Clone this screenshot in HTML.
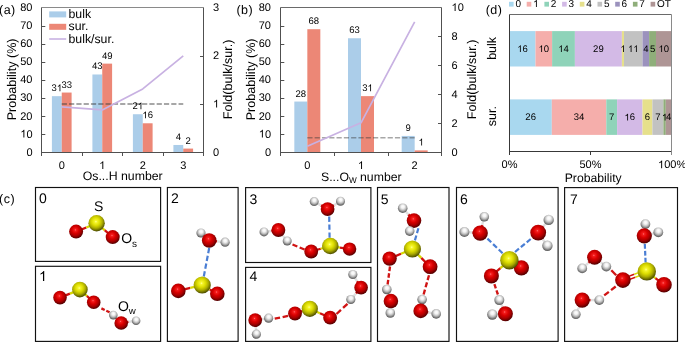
<!DOCTYPE html>
<html><head><meta charset="utf-8"><style>
html,body{margin:0;padding:0;background:#fff;}
body{width:685px;height:342px;overflow:hidden;}
svg{display:block;will-change:transform;text-rendering:geometricPrecision;}
</style></head><body>
<svg width="685" height="342" viewBox="0 0 685 342" font-family='"Liberation Sans", sans-serif' fill="#000">
<rect width="685" height="342" fill="#fff"/>
<g id="pa">
<rect x="51.90" y="96.17" width="9.85" height="56.03" fill="#abcde9" />
<rect x="61.75" y="92.55" width="9.85" height="59.65" fill="#ec8776" />
<rect x="92.40" y="74.48" width="9.85" height="77.72" fill="#abcde9" />
<rect x="102.25" y="63.63" width="9.85" height="88.57" fill="#ec8776" />
<rect x="132.90" y="114.24" width="9.85" height="37.96" fill="#abcde9" />
<rect x="142.75" y="123.28" width="9.85" height="28.92" fill="#ec8776" />
<rect x="173.40" y="144.97" width="9.85" height="7.23" fill="#abcde9" />
<rect x="183.25" y="148.58" width="9.85" height="3.61" fill="#ec8776" />
<line x1="61.75" y1="104.0" x2="183.25" y2="104.0" stroke="rgba(60,60,60,0.6)" stroke-width="1.3" stroke-dasharray="5.2,2.1"/>
<polyline points="61.75,106.92 102.25,109.90 142.75,88.94 183.25,55.80" fill="none" stroke="#c8b1e2" stroke-width="1.7" stroke-linejoin="round"/>
<line x1="41.5" y1="7.5" x2="203.5" y2="7.5" stroke="#8a8a8a" stroke-width="1" />
<line x1="41.5" y1="7.5" x2="41.5" y2="156.0" stroke="#505050" stroke-width="1" />
<line x1="203.5" y1="7.5" x2="203.5" y2="156.0" stroke="#505050" stroke-width="1" />
<line x1="41.5" y1="152.5" x2="203.5" y2="152.5" stroke="#505050" stroke-width="1" />
<text x="32.5" y="155.70" font-size="11" text-anchor="end" >0</text>
<line x1="41.5" y1="134.5" x2="45.3" y2="134.5" stroke="#505050" stroke-width="1" />
<text x="32.5" y="137.62" font-size="11" text-anchor="end" ><tspan fill="transparent">1</tspan>0</text>
<path d="M763 0H583V1147Q518 1085 415 1024Q312 964 223 931V1105Q374 1176 487 1277Q600 1378 647 1466H763Z" transform="translate(20.26,137.62) scale(0.00537,-0.00537)"/>
<line x1="41.5" y1="116.5" x2="45.3" y2="116.5" stroke="#505050" stroke-width="1" />
<text x="32.5" y="119.55" font-size="11" text-anchor="end" >20</text>
<line x1="41.5" y1="98.5" x2="45.3" y2="98.5" stroke="#505050" stroke-width="1" />
<text x="32.5" y="101.47" font-size="11" text-anchor="end" >30</text>
<line x1="41.5" y1="80.5" x2="45.3" y2="80.5" stroke="#505050" stroke-width="1" />
<text x="32.5" y="83.40" font-size="11" text-anchor="end" >40</text>
<line x1="41.5" y1="62.5" x2="45.3" y2="62.5" stroke="#505050" stroke-width="1" />
<text x="32.5" y="65.32" font-size="11" text-anchor="end" >50</text>
<line x1="41.5" y1="44.5" x2="45.3" y2="44.5" stroke="#505050" stroke-width="1" />
<text x="32.5" y="47.25" font-size="11" text-anchor="end" >60</text>
<line x1="41.5" y1="26.5" x2="45.3" y2="26.5" stroke="#505050" stroke-width="1" />
<text x="32.5" y="29.17" font-size="11" text-anchor="end" >70</text>
<text x="32.5" y="11.10" font-size="11" text-anchor="end" >80</text>
<text x="213" y="155.70" font-size="11" text-anchor="start" >0</text>
<line x1="200.0" y1="104.5" x2="203.5" y2="104.5" stroke="#505050" stroke-width="1" />
<text x="213" y="107.50" font-size="11" text-anchor="start" ><tspan fill="transparent">1</tspan></text>
<path d="M763 0H583V1147Q518 1085 415 1024Q312 964 223 931V1105Q374 1176 487 1277Q600 1378 647 1466H763Z" transform="translate(213.00,107.50) scale(0.00537,-0.00537)"/>
<line x1="200.0" y1="56.5" x2="203.5" y2="56.5" stroke="#505050" stroke-width="1" />
<text x="213" y="59.30" font-size="11" text-anchor="start" >2</text>
<text x="213" y="11.10" font-size="11" text-anchor="start" >3</text>
<line x1="82.5" y1="152.5" x2="82.5" y2="156.0" stroke="#505050" stroke-width="1" />
<line x1="122.5" y1="152.5" x2="122.5" y2="156.0" stroke="#505050" stroke-width="1" />
<line x1="163.5" y1="152.5" x2="163.5" y2="156.0" stroke="#505050" stroke-width="1" />
<text x="61.75" y="169.0" font-size="11" text-anchor="middle" >0</text>
<text x="102.25" y="169.0" font-size="11" text-anchor="middle" ><tspan fill="transparent">1</tspan></text>
<path d="M763 0H583V1147Q518 1085 415 1024Q312 964 223 931V1105Q374 1176 487 1277Q600 1378 647 1466H763Z" transform="translate(99.19,169.00) scale(0.00537,-0.00537)"/>
<text x="142.75" y="169.0" font-size="11" text-anchor="middle" >2</text>
<text x="183.25" y="169.0" font-size="11" text-anchor="middle" >3</text>
<text x="56.83" y="91.17" font-size="9.5" text-anchor="middle" >3<tspan fill="transparent">1</tspan></text>
<path d="M763 0H583V1147Q518 1085 415 1024Q312 964 223 931V1105Q374 1176 487 1277Q600 1378 647 1466H763Z" transform="translate(56.83,91.17) scale(0.00464,-0.00464)"/>
<text x="66.67" y="87.55" font-size="9.5" text-anchor="middle" >33</text>
<text x="97.33" y="69.48" font-size="9.5" text-anchor="middle" >43</text>
<text x="107.17" y="58.63" font-size="9.5" text-anchor="middle" >49</text>
<text x="137.82" y="109.24" font-size="9.5" text-anchor="middle" >2<tspan fill="transparent">1</tspan></text>
<path d="M763 0H583V1147Q518 1085 415 1024Q312 964 223 931V1105Q374 1176 487 1277Q600 1378 647 1466H763Z" transform="translate(137.82,109.24) scale(0.00464,-0.00464)"/>
<text x="147.68" y="118.28" font-size="9.5" text-anchor="middle" ><tspan fill="transparent">1</tspan>6</text>
<path d="M763 0H583V1147Q518 1085 415 1024Q312 964 223 931V1105Q374 1176 487 1277Q600 1378 647 1466H763Z" transform="translate(142.40,118.28) scale(0.00464,-0.00464)"/>
<text x="178.32" y="139.97" font-size="9.5" text-anchor="middle" >4</text>
<text x="188.18" y="143.58" font-size="9.5" text-anchor="middle" >2</text>
<text transform="translate(16.4,79.4) rotate(-90)" font-size="12.6" text-anchor="middle">Probability (%)</text>
<text transform="translate(232,79.4) rotate(-90)" font-size="12.6" text-anchor="middle">Fold(bulk/sur.)</text>
<text x="122.7" y="180.3" font-size="12.3" text-anchor="middle">Os...H number</text>
<text x="-1" y="14.4" font-size="12.5" text-anchor="start" letter-spacing="0.5">(a)</text>
<rect x="49.20" y="11.40" width="17.00" height="6.00" fill="#abcde9" />
<rect x="49.20" y="23.80" width="17.00" height="6.00" fill="#ec8776" />
<line x1="49.2" y1="39" x2="66.2" y2="39" stroke="#c8b1e2" stroke-width="1.6" />
<text x="68.5" y="18.2" font-size="12.3" text-anchor="start" >bulk</text>
<text x="68.5" y="30.4" font-size="12.3" text-anchor="start" >sur.</text>
<text x="68.5" y="42.6" font-size="12.3" text-anchor="start" >bulk/sur.</text>
</g>
<g id="pb">
<rect x="294.33" y="101.55" width="13.00" height="50.64" fill="#abcde9" />
<rect x="307.33" y="29.20" width="13.00" height="122.99" fill="#ec8776" />
<rect x="348.00" y="38.25" width="13.00" height="113.95" fill="#abcde9" />
<rect x="361.00" y="96.13" width="13.00" height="56.07" fill="#ec8776" />
<rect x="401.67" y="135.92" width="13.00" height="16.28" fill="#abcde9" />
<rect x="414.67" y="150.39" width="13.00" height="1.81" fill="#ec8776" />
<line x1="307.3333333333333" y1="137.73" x2="414.66666666666663" y2="137.73" stroke="rgba(60,60,60,0.45)" stroke-width="1.3" stroke-dasharray="5.2,2.1"/>
<polyline points="307.33,146.24 361.00,122.79 414.67,21.97" fill="none" stroke="#c8b1e2" stroke-width="1.7" stroke-linejoin="round"/>
<line x1="280.5" y1="7.5" x2="441.5" y2="7.5" stroke="#6a6a6a" stroke-width="1" />
<line x1="280.5" y1="7.5" x2="280.5" y2="156.0" stroke="#505050" stroke-width="1" />
<line x1="441.5" y1="7.5" x2="441.5" y2="156.0" stroke="#505050" stroke-width="1" />
<line x1="280.5" y1="152.5" x2="441.5" y2="152.5" stroke="#505050" stroke-width="1" />
<text x="271" y="155.70" font-size="11" text-anchor="end" >0</text>
<line x1="280.5" y1="134.5" x2="284.3" y2="134.5" stroke="#505050" stroke-width="1" />
<text x="271" y="137.61" font-size="11" text-anchor="end" ><tspan fill="transparent">1</tspan>0</text>
<path d="M763 0H583V1147Q518 1085 415 1024Q312 964 223 931V1105Q374 1176 487 1277Q600 1378 647 1466H763Z" transform="translate(258.76,137.61) scale(0.00537,-0.00537)"/>
<line x1="280.5" y1="116.5" x2="284.3" y2="116.5" stroke="#505050" stroke-width="1" />
<text x="271" y="119.52" font-size="11" text-anchor="end" >20</text>
<line x1="280.5" y1="98.5" x2="284.3" y2="98.5" stroke="#505050" stroke-width="1" />
<text x="271" y="101.44" font-size="11" text-anchor="end" >30</text>
<line x1="280.5" y1="80.5" x2="284.3" y2="80.5" stroke="#505050" stroke-width="1" />
<text x="271" y="83.35" font-size="11" text-anchor="end" >40</text>
<line x1="280.5" y1="62.5" x2="284.3" y2="62.5" stroke="#505050" stroke-width="1" />
<text x="271" y="65.26" font-size="11" text-anchor="end" >50</text>
<line x1="280.5" y1="44.5" x2="284.3" y2="44.5" stroke="#505050" stroke-width="1" />
<text x="271" y="47.17" font-size="11" text-anchor="end" >60</text>
<line x1="280.5" y1="26.5" x2="284.3" y2="26.5" stroke="#505050" stroke-width="1" />
<text x="271" y="29.09" font-size="11" text-anchor="end" >70</text>
<text x="271" y="11.00" font-size="11" text-anchor="end" >80</text>
<text x="451.5" y="155.70" font-size="11" text-anchor="start" >0</text>
<line x1="438.0" y1="123.5" x2="441.5" y2="123.5" stroke="#505050" stroke-width="1" />
<text x="451.5" y="126.76" font-size="11" text-anchor="start" >2</text>
<line x1="438.0" y1="94.5" x2="441.5" y2="94.5" stroke="#505050" stroke-width="1" />
<text x="451.5" y="97.82" font-size="11" text-anchor="start" >4</text>
<line x1="438.0" y1="65.5" x2="441.5" y2="65.5" stroke="#505050" stroke-width="1" />
<text x="451.5" y="68.88" font-size="11" text-anchor="start" >6</text>
<line x1="438.0" y1="36.5" x2="441.5" y2="36.5" stroke="#505050" stroke-width="1" />
<text x="451.5" y="39.94" font-size="11" text-anchor="start" >8</text>
<text x="451.5" y="11.00" font-size="11" text-anchor="start" ><tspan fill="transparent">1</tspan>0</text>
<path d="M763 0H583V1147Q518 1085 415 1024Q312 964 223 931V1105Q374 1176 487 1277Q600 1378 647 1466H763Z" transform="translate(451.50,11.00) scale(0.00537,-0.00537)"/>
<line x1="334.5" y1="152.5" x2="334.5" y2="156.0" stroke="#505050" stroke-width="1" />
<line x1="388.5" y1="152.5" x2="388.5" y2="156.0" stroke="#505050" stroke-width="1" />
<text x="307.33" y="169.0" font-size="11" text-anchor="middle" >0</text>
<text x="361.00" y="169.0" font-size="11" text-anchor="middle" ><tspan fill="transparent">1</tspan></text>
<path d="M763 0H583V1147Q518 1085 415 1024Q312 964 223 931V1105Q374 1176 487 1277Q600 1378 647 1466H763Z" transform="translate(357.94,169.00) scale(0.00537,-0.00537)"/>
<text x="414.67" y="169.0" font-size="11" text-anchor="middle" >2</text>
<text x="300.83" y="96.55" font-size="9.5" text-anchor="middle" >28</text>
<text x="313.83" y="24.20" font-size="9.5" text-anchor="middle" >68</text>
<text x="354.50" y="33.25" font-size="9.5" text-anchor="middle" >63</text>
<text x="367.50" y="91.13" font-size="9.5" text-anchor="middle" >3<tspan fill="transparent">1</tspan></text>
<path d="M763 0H583V1147Q518 1085 415 1024Q312 964 223 931V1105Q374 1176 487 1277Q600 1378 647 1466H763Z" transform="translate(367.50,91.13) scale(0.00464,-0.00464)"/>
<text x="408.17" y="130.92" font-size="9.5" text-anchor="middle" >9</text>
<text x="421.17" y="145.39" font-size="9.5" text-anchor="middle" ><tspan fill="transparent">1</tspan></text>
<path d="M763 0H583V1147Q518 1085 415 1024Q312 964 223 931V1105Q374 1176 487 1277Q600 1378 647 1466H763Z" transform="translate(418.53,145.39) scale(0.00464,-0.00464)"/>
<text transform="translate(255.2,79.4) rotate(-90)" font-size="12.6" text-anchor="middle">Probability (%)</text>
<text transform="translate(476.3,79.4) rotate(-90)" font-size="12.6" text-anchor="middle">Fold(bulk/sur.)</text>
<text x="321" y="180.6" font-size="12.25">S...O<tspan font-size="8.2" dy="2.6">W</tspan><tspan dy="-2.6"> number</tspan></text>
<text x="236.4" y="14.4" font-size="12.5" text-anchor="start" letter-spacing="0.5">(b)</text>
</g>
<g id="pd">
<rect x="509.50" y="31.10" width="26.00" height="35.40" fill="#a9d8ef" />
<rect x="535.50" y="31.10" width="16.60" height="35.40" fill="#f5aeab" />
<rect x="552.10" y="31.10" width="22.80" height="35.40" fill="#8fd3b9" />
<rect x="574.90" y="31.10" width="47.00" height="35.40" fill="#d3bae6" />
<rect x="621.90" y="31.10" width="2.10" height="35.40" fill="#e6e08c" />
<rect x="624.00" y="31.10" width="18.50" height="35.40" fill="#c2c2c2" />
<rect x="642.50" y="31.10" width="6.60" height="35.40" fill="#9b92bd" />
<rect x="649.10" y="31.10" width="6.90" height="35.40" fill="#8fae7a" />
<rect x="656.00" y="31.10" width="15.60" height="35.40" fill="#ae9595" />
<text x="522.50" y="52.10" font-size="9.5" text-anchor="middle" ><tspan fill="transparent">1</tspan>6</text>
<path d="M763 0H583V1147Q518 1085 415 1024Q312 964 223 931V1105Q374 1176 487 1277Q600 1378 647 1466H763Z" transform="translate(517.22,52.10) scale(0.00464,-0.00464)"/>
<text x="543.80" y="52.10" font-size="9.5" text-anchor="middle" ><tspan fill="transparent">1</tspan>0</text>
<path d="M763 0H583V1147Q518 1085 415 1024Q312 964 223 931V1105Q374 1176 487 1277Q600 1378 647 1466H763Z" transform="translate(538.52,52.10) scale(0.00464,-0.00464)"/>
<text x="563.50" y="52.10" font-size="9.5" text-anchor="middle" ><tspan fill="transparent">1</tspan>4</text>
<path d="M763 0H583V1147Q518 1085 415 1024Q312 964 223 931V1105Q374 1176 487 1277Q600 1378 647 1466H763Z" transform="translate(558.22,52.10) scale(0.00464,-0.00464)"/>
<text x="598.40" y="52.10" font-size="9.5" text-anchor="middle" >29</text>
<text x="622.95" y="52.10" font-size="9.5" text-anchor="middle" ><tspan fill="transparent">1</tspan></text>
<path d="M763 0H583V1147Q518 1085 415 1024Q312 964 223 931V1105Q374 1176 487 1277Q600 1378 647 1466H763Z" transform="translate(620.31,52.10) scale(0.00464,-0.00464)"/>
<text x="633.25" y="52.10" font-size="9.5" text-anchor="middle" ><tspan fill="transparent">1</tspan><tspan fill="transparent">1</tspan></text>
<path d="M763 0H583V1147Q518 1085 415 1024Q312 964 223 931V1105Q374 1176 487 1277Q600 1378 647 1466H763Z" transform="translate(627.97,52.10) scale(0.00464,-0.00464)"/>
<path d="M763 0H583V1147Q518 1085 415 1024Q312 964 223 931V1105Q374 1176 487 1277Q600 1378 647 1466H763Z" transform="translate(633.25,52.10) scale(0.00464,-0.00464)"/>
<text x="645.80" y="52.10" font-size="9.5" text-anchor="middle" >4</text>
<text x="652.55" y="52.10" font-size="9.5" text-anchor="middle" >5</text>
<text x="663.80" y="52.10" font-size="9.5" text-anchor="middle" ><tspan fill="transparent">1</tspan>0</text>
<path d="M763 0H583V1147Q518 1085 415 1024Q312 964 223 931V1105Q374 1176 487 1277Q600 1378 647 1466H763Z" transform="translate(658.52,52.10) scale(0.00464,-0.00464)"/>
<rect x="509.50" y="99.40" width="42.30" height="35.50" fill="#a9d8ef" />
<rect x="551.80" y="99.40" width="54.50" height="35.50" fill="#f5aeab" />
<rect x="606.30" y="99.40" width="10.80" height="35.50" fill="#8fd3b9" />
<rect x="617.10" y="99.40" width="25.40" height="35.50" fill="#d3bae6" />
<rect x="642.50" y="99.40" width="9.90" height="35.50" fill="#e6e08c" />
<rect x="652.40" y="99.40" width="11.00" height="35.50" fill="#c2c2c2" />
<rect x="663.40" y="99.40" width="2.40" height="35.50" fill="#8fae7a" />
<rect x="665.80" y="99.40" width="5.80" height="35.50" fill="#ae9595" />
<text x="530.65" y="120.45" font-size="9.5" text-anchor="middle" >26</text>
<text x="579.05" y="120.45" font-size="9.5" text-anchor="middle" >34</text>
<text x="611.70" y="120.45" font-size="9.5" text-anchor="middle" >7</text>
<text x="629.80" y="120.45" font-size="9.5" text-anchor="middle" ><tspan fill="transparent">1</tspan>6</text>
<path d="M763 0H583V1147Q518 1085 415 1024Q312 964 223 931V1105Q374 1176 487 1277Q600 1378 647 1466H763Z" transform="translate(624.52,120.45) scale(0.00464,-0.00464)"/>
<text x="647.45" y="120.45" font-size="9.5" text-anchor="middle" >6</text>
<text x="657.90" y="120.45" font-size="9.5" text-anchor="middle" >7</text>
<text x="664.60" y="120.45" font-size="9.5" text-anchor="middle" ><tspan fill="transparent">1</tspan></text>
<path d="M763 0H583V1147Q518 1085 415 1024Q312 964 223 931V1105Q374 1176 487 1277Q600 1378 647 1466H763Z" transform="translate(661.96,120.45) scale(0.00464,-0.00464)"/>
<text x="668.70" y="120.45" font-size="9.5" text-anchor="middle" >4</text>
<line x1="509.5" y1="14.5" x2="671.5" y2="14.5" stroke="#6a6a6a" stroke-width="1" />
<line x1="671.5" y1="14.5" x2="671.5" y2="151.5" stroke="#8a8a8a" stroke-width="1" />
<line x1="509.5" y1="14.5" x2="509.5" y2="155.0" stroke="#383838" stroke-width="1" />
<line x1="509.5" y1="151.5" x2="671.5" y2="151.5" stroke="#383838" stroke-width="1" />
<text x="509.50" y="168.3" font-size="11" text-anchor="middle" >0%</text>
<line x1="590.5" y1="151.5" x2="590.5" y2="155.0" stroke="#383838" stroke-width="1" />
<text x="590.50" y="168.3" font-size="11" text-anchor="middle" >50%</text>
<line x1="671.5" y1="151.5" x2="671.5" y2="155.0" stroke="#8a8a8a" stroke-width="1" />
<text x="672.10" y="168.3" font-size="11" text-anchor="middle" ><tspan fill="transparent">1</tspan>00%</text>
<path d="M763 0H583V1147Q518 1085 415 1024Q312 964 223 931V1105Q374 1176 487 1277Q600 1378 647 1466H763Z" transform="translate(658.03,168.30) scale(0.00537,-0.00537)"/>
<text x="593.2" y="182.2" font-size="12.2" text-anchor="middle" >Probability</text>
<text transform="translate(496.4,48.4) rotate(-90)" font-size="12.5" text-anchor="middle">bulk</text>
<text transform="translate(496.4,116.2) rotate(-90)" font-size="12.5" text-anchor="middle">sur.</text>
<text x="485.7" y="14.4" font-size="12.5" text-anchor="start" letter-spacing="0.5">(d)</text>
<rect x="509.00" y="1.80" width="4.60" height="4.80" fill="#a9d8ef" />
<text x="515.40" y="7.1" font-size="10" text-anchor="start" >0</text>
<rect x="526.70" y="1.80" width="4.60" height="4.80" fill="#f5aeab" />
<text x="533.10" y="7.1" font-size="10" text-anchor="start" ><tspan fill="transparent">1</tspan></text>
<path d="M763 0H583V1147Q518 1085 415 1024Q312 964 223 931V1105Q374 1176 487 1277Q600 1378 647 1466H763Z" transform="translate(533.10,7.10) scale(0.00488,-0.00488)"/>
<rect x="544.40" y="1.80" width="4.60" height="4.80" fill="#8fd3b9" />
<text x="550.80" y="7.1" font-size="10" text-anchor="start" >2</text>
<rect x="562.10" y="1.80" width="4.60" height="4.80" fill="#d3bae6" />
<text x="568.50" y="7.1" font-size="10" text-anchor="start" >3</text>
<rect x="579.80" y="1.80" width="4.60" height="4.80" fill="#e6e08c" />
<text x="586.20" y="7.1" font-size="10" text-anchor="start" >4</text>
<rect x="597.50" y="1.80" width="4.60" height="4.80" fill="#c2c2c2" />
<text x="603.90" y="7.1" font-size="10" text-anchor="start" >5</text>
<rect x="615.20" y="1.80" width="4.60" height="4.80" fill="#9b92bd" />
<text x="621.60" y="7.1" font-size="10" text-anchor="start" >6</text>
<rect x="632.90" y="1.80" width="4.60" height="4.80" fill="#8fae7a" />
<text x="639.30" y="7.1" font-size="10" text-anchor="start" >7</text>
<rect x="650.60" y="1.80" width="4.60" height="4.80" fill="#ae9595" />
<text x="657.00" y="7.1" font-size="10" text-anchor="start" >OT</text>
</g>
<defs>
<radialGradient id="gO" cx="0.44" cy="0.38" r="0.62" fx="0.45" fy="0.38">
<stop offset="0" stop-color="#ff7272"/><stop offset="0.12" stop-color="#f41c1c"/><stop offset="0.4" stop-color="#d80000"/><stop offset="0.66" stop-color="#ae0000"/><stop offset="0.86" stop-color="#780000"/><stop offset="1" stop-color="#4c0000"/></radialGradient>
<radialGradient id="gS" cx="0.44" cy="0.38" r="0.62" fx="0.46" fy="0.4">
<stop offset="0" stop-color="#ffff98"/><stop offset="0.12" stop-color="#f6f62c"/><stop offset="0.4" stop-color="#dcdc00"/><stop offset="0.66" stop-color="#acac00"/><stop offset="0.86" stop-color="#727200"/><stop offset="1" stop-color="#484800"/></radialGradient>
<radialGradient id="gH" cx="0.5" cy="0.4" r="0.62" fx="0.52" fy="0.32">
<stop offset="0" stop-color="#ffffff"/><stop offset="0.28" stop-color="#f3f3f3"/><stop offset="0.56" stop-color="#c0c0c0"/><stop offset="0.8" stop-color="#7e7e7e"/><stop offset="1" stop-color="#4c4c4c"/></radialGradient>
</defs>
<g id="pc">
<text x="-1" y="202.8" font-size="12.5" text-anchor="start" letter-spacing="0.5">(c)</text>
<rect x="35.5" y="187.5" width="125.10" height="73.90" fill="none" stroke="#111" stroke-width="1.15"/>
<text x="39.00" y="203.30" font-size="14" text-anchor="start" >0</text>
<rect x="35.5" y="266.3" width="125.10" height="75.10" fill="none" stroke="#111" stroke-width="1.15"/>
<text x="39.00" y="281.00" font-size="14" text-anchor="start" ><tspan fill="transparent">1</tspan></text>
<path d="M763 0H583V1147Q518 1085 415 1024Q312 964 223 931V1105Q374 1176 487 1277Q600 1378 647 1466H763Z" transform="translate(39.00,281.00) scale(0.00684,-0.00684)"/>
<rect x="167.4" y="187.5" width="70.70" height="153.90" fill="none" stroke="#111" stroke-width="1.15"/>
<text x="170.90" y="203.30" font-size="14" text-anchor="start" >2</text>
<rect x="245.6" y="187.6" width="125.30" height="74.90" fill="none" stroke="#111" stroke-width="1.15"/>
<text x="249.60" y="204.00" font-size="14" text-anchor="start" >3</text>
<rect x="245.6" y="267.4" width="125.30" height="74.00" fill="none" stroke="#111" stroke-width="1.15"/>
<text x="249.50" y="281.00" font-size="14" text-anchor="start" >4</text>
<rect x="377.5" y="187.5" width="71.50" height="153.90" fill="none" stroke="#111" stroke-width="1.15"/>
<text x="380.70" y="203.70" font-size="14" text-anchor="start" >5</text>
<rect x="456.5" y="187.5" width="101.60" height="153.90" fill="none" stroke="#111" stroke-width="1.15"/>
<text x="460.00" y="203.80" font-size="14" text-anchor="start" >6</text>
<rect x="564.6" y="187.6" width="112.90" height="153.80" fill="none" stroke="#111" stroke-width="1.15"/>
<text x="570.00" y="203.60" font-size="14" text-anchor="start" >7</text>
<line x1="76.1" y1="231.6" x2="86.35" y2="227.45" stroke="#d01010" stroke-width="2.3"/>
<line x1="86.35" y1="227.45" x2="96.6" y2="223.3" stroke="#d8d800" stroke-width="2.3"/>
<line x1="112.7" y1="237.1" x2="104.65" y2="230.2" stroke="#d01010" stroke-width="2.3"/>
<line x1="104.65" y1="230.2" x2="96.6" y2="223.3" stroke="#d8d800" stroke-width="2.3"/>
<circle cx="76.1" cy="231.6" r="7.0" fill="url(#gO)"/>
<circle cx="112.7" cy="237.1" r="7.0" fill="url(#gO)"/>
<circle cx="96.6" cy="223.3" r="8.2" fill="url(#gS)"/>
<text x="94" y="211.4" font-size="14" text-anchor="start" >S</text>
<text x="121.2" y="242.8" font-size="14">O<tspan font-size="10" dy="3.7">s</tspan></text>
<line x1="60" y1="297.6" x2="69.95" y2="293.6" stroke="#d01010" stroke-width="2.3"/>
<line x1="69.95" y1="293.6" x2="79.9" y2="289.6" stroke="#d8d800" stroke-width="2.3"/>
<line x1="93.7" y1="302.3" x2="86.80000000000001" y2="295.95000000000005" stroke="#d01010" stroke-width="2.3"/>
<line x1="86.80000000000001" y1="295.95000000000005" x2="79.9" y2="289.6" stroke="#d8d800" stroke-width="2.3"/>
<circle cx="60" cy="297.6" r="6.8" fill="url(#gO)"/>
<circle cx="93.7" cy="302.3" r="6.8" fill="url(#gO)"/>
<circle cx="79.9" cy="289.6" r="7.8" fill="url(#gS)"/>
<line x1="101.4" y1="308.4" x2="109.6" y2="312.3" stroke="#d01414" stroke-width="2.35" stroke-dasharray="3.66,1.75"/>
<line x1="121.2" y1="323" x2="117.25" y2="319.05" stroke="#d01010" stroke-width="2.4"/>
<line x1="117.25" y1="319.05" x2="113.3" y2="315.1" stroke="#e0e0e0" stroke-width="2.4"/>
<line x1="121.2" y1="323" x2="128.65" y2="321.9" stroke="#d01010" stroke-width="2.4"/>
<line x1="128.65" y1="321.9" x2="136.1" y2="320.8" stroke="#e0e0e0" stroke-width="2.4"/>
<circle cx="113.3" cy="315.1" r="4.3" fill="url(#gH)"/>
<circle cx="136.1" cy="320.8" r="4.3" fill="url(#gH)"/>
<circle cx="121.2" cy="323" r="6.8" fill="url(#gO)"/>
<text x="117.9" y="311.4" font-size="14">O<tspan font-size="9.7" dy="2.9">w</tspan></text>
<line x1="209.2" y1="240.5" x2="205.1" y2="236.75" stroke="#d01010" stroke-width="2.4"/>
<line x1="205.1" y1="236.75" x2="201" y2="233" stroke="#e0e0e0" stroke-width="2.4"/>
<line x1="209.2" y1="240.5" x2="217.14999999999998" y2="241.35" stroke="#d01010" stroke-width="2.4"/>
<line x1="217.14999999999998" y1="241.35" x2="225.1" y2="242.2" stroke="#e0e0e0" stroke-width="2.4"/>
<circle cx="201" cy="233" r="4.6" fill="url(#gH)"/>
<circle cx="225.1" cy="242.2" r="4.6" fill="url(#gH)"/>
<circle cx="209.2" cy="240.5" r="7.3" fill="url(#gO)"/>
<line x1="209.2" y1="248" x2="203.8" y2="276.5" stroke="#4a7ed4" stroke-width="2.2" stroke-dasharray="5.33,2.56"/>
<line x1="178.3" y1="290.9" x2="190.25" y2="287.95" stroke="#d01010" stroke-width="2.3"/>
<line x1="190.25" y1="287.95" x2="202.2" y2="285" stroke="#d8d800" stroke-width="2.3"/>
<line x1="217.3" y1="293.8" x2="209.75" y2="289.4" stroke="#d01010" stroke-width="2.3"/>
<line x1="209.75" y1="289.4" x2="202.2" y2="285" stroke="#d8d800" stroke-width="2.3"/>
<circle cx="178.3" cy="290.9" r="7.3" fill="url(#gO)"/>
<circle cx="217.3" cy="293.8" r="7.3" fill="url(#gO)"/>
<circle cx="202.2" cy="285" r="8.6" fill="url(#gS)"/>
<line x1="327.6" y1="209.1" x2="320.9" y2="205.35" stroke="#d01010" stroke-width="2.4"/>
<line x1="320.9" y1="205.35" x2="314.2" y2="201.6" stroke="#e0e0e0" stroke-width="2.4"/>
<line x1="327.6" y1="209.1" x2="334.05" y2="205.14999999999998" stroke="#d01010" stroke-width="2.4"/>
<line x1="334.05" y1="205.14999999999998" x2="340.5" y2="201.2" stroke="#e0e0e0" stroke-width="2.4"/>
<circle cx="314.2" cy="201.6" r="4.5" fill="url(#gH)"/>
<circle cx="340.5" cy="201.2" r="4.5" fill="url(#gH)"/>
<circle cx="327.6" cy="209.1" r="6.9" fill="url(#gO)"/>
<line x1="329.2" y1="216.5" x2="329.6" y2="237.8" stroke="#4a7ed4" stroke-width="2.2" stroke-dasharray="5.38,2.58"/>
<line x1="278.4" y1="230" x2="271.2" y2="230.95" stroke="#d01010" stroke-width="2.4"/>
<line x1="271.2" y1="230.95" x2="264" y2="231.9" stroke="#e0e0e0" stroke-width="2.4"/>
<line x1="278.4" y1="230" x2="282.79999999999995" y2="235.5" stroke="#d01010" stroke-width="2.4"/>
<line x1="282.79999999999995" y1="235.5" x2="287.2" y2="241" stroke="#e0e0e0" stroke-width="2.4"/>
<circle cx="264" cy="231.9" r="4.5" fill="url(#gH)"/>
<circle cx="278.4" cy="230" r="6.9" fill="url(#gO)"/>
<circle cx="287.2" cy="241" r="4.5" fill="url(#gH)"/>
<line x1="292.5" y1="244.5" x2="304.5" y2="249.5" stroke="#d01414" stroke-width="2.35" stroke-dasharray="5.24,2.51"/>
<line x1="311.2" y1="251.5" x2="320.75" y2="248.75" stroke="#d01010" stroke-width="2.3"/>
<line x1="320.75" y1="248.75" x2="330.3" y2="246" stroke="#d8d800" stroke-width="2.3"/>
<line x1="349.6" y1="249.1" x2="339.95000000000005" y2="247.55" stroke="#d01010" stroke-width="2.3"/>
<line x1="339.95000000000005" y1="247.55" x2="330.3" y2="246" stroke="#d8d800" stroke-width="2.3"/>
<circle cx="311.2" cy="251.5" r="6.9" fill="url(#gO)"/>
<circle cx="349.6" cy="249.1" r="6.7" fill="url(#gO)"/>
<circle cx="330.3" cy="246" r="8.3" fill="url(#gS)"/>
<line x1="255.2" y1="320.1" x2="261.9" y2="319.15" stroke="#d01010" stroke-width="2.4"/>
<line x1="261.9" y1="319.15" x2="268.6" y2="318.2" stroke="#e0e0e0" stroke-width="2.4"/>
<line x1="255.2" y1="320.1" x2="255.79999999999998" y2="327.15" stroke="#d01010" stroke-width="2.4"/>
<line x1="255.79999999999998" y1="327.15" x2="256.4" y2="334.2" stroke="#e0e0e0" stroke-width="2.4"/>
<circle cx="255.2" cy="320.1" r="6.9" fill="url(#gO)"/>
<circle cx="268.6" cy="318.2" r="4.6" fill="url(#gH)"/>
<circle cx="256.4" cy="334.2" r="4.6" fill="url(#gH)"/>
<line x1="274.7" y1="318.7" x2="288" y2="315.9" stroke="#d01414" stroke-width="2.35" stroke-dasharray="5.48,2.63"/>
<line x1="295" y1="313.5" x2="302.4" y2="311.15" stroke="#d01010" stroke-width="2.3"/>
<line x1="302.4" y1="311.15" x2="309.8" y2="308.8" stroke="#d8d800" stroke-width="2.3"/>
<line x1="330.1" y1="317.7" x2="319.95000000000005" y2="313.25" stroke="#d01010" stroke-width="2.3"/>
<line x1="319.95000000000005" y1="313.25" x2="309.8" y2="308.8" stroke="#d8d800" stroke-width="2.3"/>
<circle cx="295" cy="313.5" r="6.9" fill="url(#gO)"/>
<circle cx="330.1" cy="317.7" r="6.9" fill="url(#gO)"/>
<circle cx="309.8" cy="308.8" r="8.1" fill="url(#gS)"/>
<line x1="336.5" y1="314" x2="347.5" y2="303.8" stroke="#d01414" stroke-width="2.35" stroke-dasharray="6.05,2.90"/>
<line x1="361.1" y1="287.6" x2="355.95000000000005" y2="293.55" stroke="#d01010" stroke-width="2.4"/>
<line x1="355.95000000000005" y1="293.55" x2="350.8" y2="299.5" stroke="#e0e0e0" stroke-width="2.4"/>
<line x1="361.1" y1="287.6" x2="356.95000000000005" y2="281.05" stroke="#d01010" stroke-width="2.4"/>
<line x1="356.95000000000005" y1="281.05" x2="352.8" y2="274.5" stroke="#e0e0e0" stroke-width="2.4"/>
<circle cx="352.8" cy="274.5" r="4.6" fill="url(#gH)"/>
<circle cx="361.1" cy="287.6" r="6.8" fill="url(#gO)"/>
<circle cx="350.8" cy="299.5" r="4.6" fill="url(#gH)"/>
<line x1="414" y1="220.6" x2="408.35" y2="214.39999999999998" stroke="#d01010" stroke-width="2.4"/>
<line x1="408.35" y1="214.39999999999998" x2="402.7" y2="208.2" stroke="#e0e0e0" stroke-width="2.4"/>
<line x1="414" y1="220.6" x2="411.85" y2="225.85" stroke="#d01010" stroke-width="2.4"/>
<line x1="411.85" y1="225.85" x2="409.7" y2="231.1" stroke="#e0e0e0" stroke-width="2.4"/>
<circle cx="402.7" cy="208.2" r="4.8" fill="url(#gH)"/>
<circle cx="414" cy="220.6" r="7.3" fill="url(#gO)"/>
<circle cx="409.7" cy="231.1" r="4.8" fill="url(#gH)"/>
<line x1="418.4" y1="228.3" x2="414.9" y2="240.4" stroke="#4a7ed4" stroke-width="2.2" stroke-dasharray="5.08,2.43"/>
<line x1="389.6" y1="258.6" x2="401.0" y2="253.8" stroke="#d01010" stroke-width="2.3"/>
<line x1="401.0" y1="253.8" x2="412.4" y2="249" stroke="#d8d800" stroke-width="2.3"/>
<line x1="430.1" y1="266.7" x2="421.25" y2="257.85" stroke="#d01010" stroke-width="2.3"/>
<line x1="421.25" y1="257.85" x2="412.4" y2="249" stroke="#d8d800" stroke-width="2.3"/>
<circle cx="389.6" cy="258.6" r="7.2" fill="url(#gO)"/>
<circle cx="430.1" cy="266.7" r="7.4" fill="url(#gO)"/>
<circle cx="412.4" cy="249" r="8.6" fill="url(#gS)"/>
<line x1="390" y1="266.5" x2="387.6" y2="284.5" stroke="#d01414" stroke-width="2.35" stroke-dasharray="4.59,2.20"/>
<line x1="429" y1="275.2" x2="423.6" y2="294.5" stroke="#d01414" stroke-width="2.35" stroke-dasharray="5.06,2.43"/>
<line x1="390.9" y1="301.1" x2="388.85" y2="295.3" stroke="#d01010" stroke-width="2.4"/>
<line x1="388.85" y1="295.3" x2="386.8" y2="289.5" stroke="#e0e0e0" stroke-width="2.4"/>
<line x1="390.9" y1="301.1" x2="390.6" y2="307.05" stroke="#d01010" stroke-width="2.4"/>
<line x1="390.6" y1="307.05" x2="390.3" y2="313" stroke="#e0e0e0" stroke-width="2.4"/>
<circle cx="386.8" cy="289.5" r="4.8" fill="url(#gH)"/>
<circle cx="390.9" cy="301.1" r="7.3" fill="url(#gO)"/>
<circle cx="390.3" cy="313" r="4.8" fill="url(#gH)"/>
<line x1="420.7" y1="310.9" x2="421.4" y2="305.25" stroke="#d01010" stroke-width="2.4"/>
<line x1="421.4" y1="305.25" x2="422.1" y2="299.6" stroke="#e0e0e0" stroke-width="2.4"/>
<line x1="420.7" y1="310.9" x2="428.45" y2="312.4" stroke="#d01010" stroke-width="2.4"/>
<line x1="428.45" y1="312.4" x2="436.2" y2="313.9" stroke="#e0e0e0" stroke-width="2.4"/>
<circle cx="422.1" cy="299.6" r="4.8" fill="url(#gH)"/>
<circle cx="420.7" cy="310.9" r="7.3" fill="url(#gO)"/>
<circle cx="436.2" cy="313.9" r="4.8" fill="url(#gH)"/>
<line x1="480.2" y1="233.1" x2="482.25" y2="224.95" stroke="#d01010" stroke-width="2.4"/>
<line x1="482.25" y1="224.95" x2="484.3" y2="216.8" stroke="#e0e0e0" stroke-width="2.4"/>
<line x1="480.2" y1="233.1" x2="472.29999999999995" y2="232.55" stroke="#d01010" stroke-width="2.4"/>
<line x1="472.29999999999995" y1="232.55" x2="464.4" y2="232" stroke="#e0e0e0" stroke-width="2.4"/>
<circle cx="484.3" cy="216.8" r="4.8" fill="url(#gH)"/>
<circle cx="464.4" cy="232" r="5.0" fill="url(#gH)"/>
<circle cx="480.2" cy="233.1" r="7.7" fill="url(#gO)"/>
<line x1="538.2" y1="232.6" x2="543.45" y2="226.25" stroke="#d01010" stroke-width="2.4"/>
<line x1="543.45" y1="226.25" x2="548.7" y2="219.9" stroke="#e0e0e0" stroke-width="2.4"/>
<line x1="538.2" y1="232.6" x2="542.8" y2="239.2" stroke="#d01010" stroke-width="2.4"/>
<line x1="542.8" y1="239.2" x2="547.4" y2="245.8" stroke="#e0e0e0" stroke-width="2.4"/>
<circle cx="538.2" cy="232.6" r="7.9" fill="url(#gO)"/>
<circle cx="548.7" cy="219.9" r="5.2" fill="url(#gH)"/>
<circle cx="547.4" cy="245.8" r="5.2" fill="url(#gH)"/>
<line x1="487.4" y1="238.6" x2="502.6" y2="253.3" stroke="#4a7ed4" stroke-width="2.2" stroke-dasharray="5.34,2.56"/>
<line x1="530.7" y1="239" x2="515" y2="252" stroke="#4a7ed4" stroke-width="2.2" stroke-dasharray="5.15,2.47"/>
<line x1="521.4" y1="267.8" x2="515.4" y2="264.0" stroke="#d01010" stroke-width="2.3"/>
<line x1="515.4" y1="264.0" x2="509.4" y2="260.2" stroke="#d8d800" stroke-width="2.3"/>
<line x1="491.4" y1="275.9" x2="500.4" y2="268.04999999999995" stroke="#d01010" stroke-width="2.3"/>
<line x1="500.4" y1="268.04999999999995" x2="509.4" y2="260.2" stroke="#d8d800" stroke-width="2.3"/>
<circle cx="521.4" cy="267.8" r="7.6" fill="url(#gO)"/>
<circle cx="491.4" cy="275.9" r="7.5" fill="url(#gO)"/>
<circle cx="509.4" cy="260.2" r="9.2" fill="url(#gS)"/>
<line x1="494.4" y1="284.2" x2="497.9" y2="294.5" stroke="#d01414" stroke-width="2.35" stroke-dasharray="4.39,2.10"/>
<line x1="505.4" y1="313.8" x2="502.35" y2="306.95000000000005" stroke="#d01010" stroke-width="2.4"/>
<line x1="502.35" y1="306.95000000000005" x2="499.3" y2="300.1" stroke="#e0e0e0" stroke-width="2.4"/>
<line x1="505.4" y1="313.8" x2="498.85" y2="314.15" stroke="#d01010" stroke-width="2.4"/>
<line x1="498.85" y1="314.15" x2="492.3" y2="314.5" stroke="#e0e0e0" stroke-width="2.4"/>
<circle cx="499.3" cy="300.1" r="5.0" fill="url(#gH)"/>
<circle cx="505.4" cy="313.8" r="7.5" fill="url(#gO)"/>
<circle cx="492.3" cy="314.5" r="5.2" fill="url(#gH)"/>
<line x1="644.3" y1="235.8" x2="644.8499999999999" y2="229.95" stroke="#d01010" stroke-width="2.4"/>
<line x1="644.8499999999999" y1="229.95" x2="645.4" y2="224.1" stroke="#e0e0e0" stroke-width="2.4"/>
<line x1="644.3" y1="235.8" x2="651.3" y2="234.05" stroke="#d01010" stroke-width="2.4"/>
<line x1="651.3" y1="234.05" x2="658.3" y2="232.3" stroke="#e0e0e0" stroke-width="2.4"/>
<circle cx="645.4" cy="224.1" r="4.9" fill="url(#gH)"/>
<circle cx="644.3" cy="235.8" r="7.6" fill="url(#gO)"/>
<circle cx="658.3" cy="232.3" r="4.9" fill="url(#gH)"/>
<line x1="644.8" y1="244" x2="645.6" y2="262.5" stroke="#4a7ed4" stroke-width="2.2" stroke-dasharray="4.68,2.24"/>
<line x1="594.6" y1="257.2" x2="600.45" y2="261.9" stroke="#d01010" stroke-width="2.4"/>
<line x1="600.45" y1="261.9" x2="606.3" y2="266.6" stroke="#e0e0e0" stroke-width="2.4"/>
<line x1="594.6" y1="257.2" x2="588.4000000000001" y2="262.79999999999995" stroke="#d01010" stroke-width="2.4"/>
<line x1="588.4000000000001" y1="262.79999999999995" x2="582.2" y2="268.4" stroke="#e0e0e0" stroke-width="2.4"/>
<circle cx="594.6" cy="257.2" r="7.5" fill="url(#gO)"/>
<circle cx="606.3" cy="266.6" r="4.9" fill="url(#gH)"/>
<circle cx="582.2" cy="268.4" r="4.9" fill="url(#gH)"/>
<line x1="611.3" y1="270.2" x2="616.2" y2="275.2" stroke="#d01414" stroke-width="2.35" stroke-dasharray="7.00,3.35"/>
<line x1="623.4472939656204" y1="281.60348572164673" x2="635.3972939656203" y2="277.2534857216467" stroke="#d01010" stroke-width="1.5"/>
<line x1="635.3972939656203" y1="277.2534857216467" x2="647.3472939656203" y2="272.9034857216467" stroke="#d8d800" stroke-width="1.5"/>
<line x1="622.3527060343796" y1="278.5965142783533" x2="634.3027060343795" y2="274.2465142783533" stroke="#d01010" stroke-width="1.5"/>
<line x1="634.3027060343795" y1="274.2465142783533" x2="646.2527060343796" y2="269.89651427835327" stroke="#d8d800" stroke-width="1.5"/>
<line x1="664" y1="284.8" x2="655.4" y2="278.1" stroke="#d01010" stroke-width="2.3"/>
<line x1="655.4" y1="278.1" x2="646.8" y2="271.4" stroke="#d8d800" stroke-width="2.3"/>
<circle cx="622.9" cy="280.1" r="7.8" fill="url(#gO)"/>
<circle cx="664" cy="284.8" r="7.8" fill="url(#gO)"/>
<circle cx="646.8" cy="271.4" r="9.2" fill="url(#gS)"/>
<line x1="615.7" y1="286.5" x2="604.2" y2="295.4" stroke="#d01414" stroke-width="2.35" stroke-dasharray="5.87,2.81"/>
<line x1="582.2" y1="300.1" x2="590.75" y2="300.1" stroke="#d01010" stroke-width="2.4"/>
<line x1="590.75" y1="300.1" x2="599.3" y2="300.1" stroke="#e0e0e0" stroke-width="2.4"/>
<line x1="582.2" y1="300.1" x2="579.05" y2="307.20000000000005" stroke="#d01010" stroke-width="2.4"/>
<line x1="579.05" y1="307.20000000000005" x2="575.9" y2="314.3" stroke="#e0e0e0" stroke-width="2.4"/>
<circle cx="599.3" cy="300.1" r="4.9" fill="url(#gH)"/>
<circle cx="575.9" cy="314.3" r="4.8" fill="url(#gH)"/>
<circle cx="582.2" cy="300.1" r="7.6" fill="url(#gO)"/>
</g>
</svg>
</body></html>
